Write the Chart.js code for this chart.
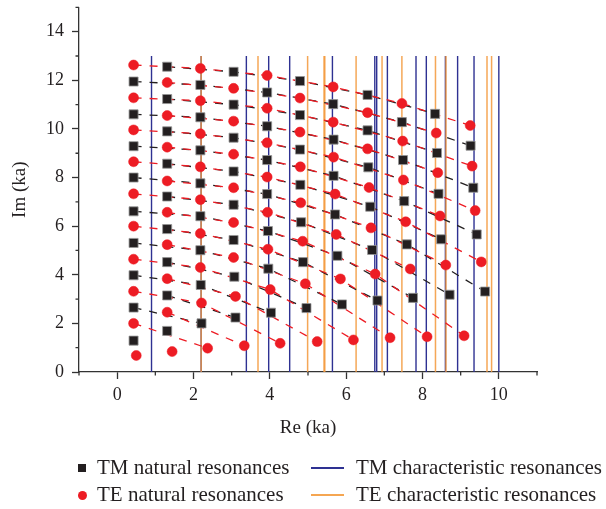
<!DOCTYPE html>
<html><head><meta charset="utf-8">
<script src="https://cdn.jsdelivr.net/npm/chart.js@4.4.1/dist/chart.umd.min.js"></script>
<style>
html,body{margin:0;padding:0;background:#fff;}
#wrap{position:relative;width:606px;height:509px;overflow:hidden;}
canvas{position:absolute;left:0;top:0;}
.lt{position:absolute;font-family:"Liberation Serif",serif;font-size:21px;color:#231f20;white-space:nowrap;line-height:22px;}
.mk{position:absolute;}
</style></head><body>
<div id="wrap"><canvas id="c" width="606" height="509"></canvas><div id="legend"></div></div>
<script>
// ---- characteristic resonances (real ka) ----
const tmCharRe = [0.90, 2.20, 3.385, 3.97, 4.52, 5.64, 6.75, 6.80, 7.08, 7.83, 8.10, 8.60, 8.92, 9.35, 10.0];
const teCharRe = [2.20, 3.69, 4.99, 5.42, 5.44, 6.26, 6.94, 7.46, 8.34, 8.615, 9.69, 9.81];
const charImSpan = [0, 13];

// ---- natural resonances, listed column by column (top row first) ----
const colIm = [
  [12.63,11.95,11.28,10.60,9.96,9.29,8.65,8.00,7.33,6.61,6.00,5.31,4.64,3.98,3.32,2.65,2.00,1.29,0.68],
  [12.56,11.91,11.23,10.55,9.90,9.25,8.57,7.86,7.22,6.57,5.88,5.24,4.52,3.84,3.15,2.46,1.69,0.84],
  [12.49,11.81,11.16,10.48,9.80,9.12,8.44,7.76,7.09,6.41,5.70,5.01,4.30,3.58,2.84,2.00,0.98],
  [12.35,11.67,11.00,10.32,9.64,8.96,8.25,7.58,6.88,6.15,5.43,4.71,3.92,3.11,2.24,1.08],
  [12.20,11.50,10.85,10.11,9.43,8.72,8.02,7.32,6.57,5.80,5.05,4.25,3.39,2.44,1.18],
  [11.97,11.27,10.57,9.87,9.15,8.44,7.70,6.96,6.16,5.38,4.52,3.63,2.63,1.25],
  [11.73,11.02,10.28,9.56,8.84,8.07,7.32,6.48,5.66,4.78,3.83,2.78,1.32],
  [11.40,10.67,9.94,9.18,8.42,7.59,6.80,5.93,5.02,4.03,2.94,1.41],
  [11.05,10.28,9.50,8.72,7.90,7.03,6.18,5.25,4.24,3.05,1.45],
  [10.62,9.83,9.01,8.20,7.33,6.42,5.46,4.40,3.18,1.49],
  [10.14,9.31,8.47,7.58,6.64,5.66,4.53,3.31]
];
const colRe = [
  [0.43,0.43,0.43,0.43,0.43,0.43,0.43,0.43,0.43,0.43,0.43,0.43,0.43,0.43,0.43,0.43,0.43,0.43,0.50],
  [1.31,1.31,1.31,1.31,1.31,1.31,1.31,1.31,1.31,1.31,1.31,1.31,1.31,1.31,1.31,1.31,1.31,1.44],
  [2.18,2.18,2.18,2.18,2.18,2.18,2.18,2.18,2.18,2.18,2.18,2.18,2.18,2.19,2.21,2.21,2.37],
  [3.05,3.05,3.05,3.05,3.05,3.05,3.05,3.05,3.05,3.05,3.05,3.05,3.07,3.10,3.10,3.33],
  [3.93,3.93,3.93,3.93,3.93,3.93,3.93,3.93,3.94,3.95,3.95,3.96,4.01,4.03,4.27],
  [4.79,4.79,4.79,4.79,4.79,4.80,4.80,4.81,4.82,4.86,4.87,4.93,4.96,5.24],
  [5.66,5.66,5.66,5.67,5.67,5.67,5.71,5.71,5.74,5.77,5.85,5.89,6.19],
  [6.56,6.56,6.56,6.56,6.58,6.60,6.63,6.65,6.68,6.76,6.82,7.15],
  [7.46,7.46,7.48,7.49,7.50,7.52,7.56,7.59,7.68,7.75,8.12],
  [8.33,8.36,8.38,8.40,8.42,8.46,8.49,8.61,8.71,9.09],
  [9.25,9.26,9.30,9.33,9.38,9.42,9.54,9.64]
];

const xTicks = [-1, 11, 1];   // min, max, step
const yTicks = [0, 15, 1];

const legendLabels = ['TM natural resonances', 'TE natural resonances', 'TM characteristic resonances', 'TE characteristic resonances'];

// ---- styles ----
const C_TM = '#231f20', C_TE = '#ed1c24', C_TMC = '#2e3192', C_TEC = 'rgba(243,152,58,0.85)', C_TEC_LEG = '#f5a652';
const FONT = '"Liberation Serif", "Times New Roman", serif';

// ---- build datasets ----
const tmPts = [], tePts = [];
const rowCount = Math.max(...colIm.map(c => c.length));
const datasets = [];
for (let r = 0; r < rowCount; r++) {
  const tmRow = [], teRow = [];
  for (let j = 0; j < colIm.length; j++) {
    if (r < colIm[j].length) {
      const p = {x: colRe[j][r], y: colIm[j][r]};
      if ((r + j) % 2 === 0) { teRow.push(p); tePts.push(p); } else { tmRow.push(p); tmPts.push(p); }
    }
  }
  if (tmRow.length > 1) datasets.push({data: tmRow, showLine: true, borderColor: C_TM, borderWidth: 1.3, borderDash: [8, 8], pointRadius: 0, order: 3});
  if (teRow.length > 1) datasets.push({data: teRow, showLine: true, borderColor: C_TE, borderWidth: 1.3, borderDash: [8, 8], pointRadius: 0, order: 2});
}
tmCharRe.forEach(v => datasets.push({data: charImSpan.map(y => ({x: v, y})), showLine: true, borderColor: C_TMC, borderWidth: 1.4, pointRadius: 0, order: 5}));
teCharRe.forEach(v => datasets.push({data: charImSpan.map(y => ({x: v, y})), showLine: true, borderColor: C_TEC, borderWidth: 1.5, pointRadius: 0, order: 4}));
datasets.push({data: tmPts, pointStyle: 'rect', pointRadius: 6.4, backgroundColor: C_TM, borderColor: 'rgba(150,150,150,0.8)', borderWidth: 1, showLine: false, order: 1});
datasets.push({data: tePts, pointStyle: 'circle', pointRadius: 5, backgroundColor: C_TE, borderColor: C_TE, borderWidth: 0.5, showLine: false, order: 0});

const minorTicks = {
  id: 'minorTicks',
  afterDraw(chart) {
    const ctx = chart.ctx, xs = chart.scales.x, ys = chart.scales.y, a = chart.chartArea;
    ctx.save();
    ctx.strokeStyle = '#333'; ctx.lineWidth = 1.3;
    ctx.beginPath();
    for (let v = xTicks[0]; v <= xTicks[1]; v += xTicks[2]) {
      if (v % 2 !== 0) { const px = xs.getPixelForValue(v); ctx.moveTo(px, a.bottom); ctx.lineTo(px, a.bottom + 3.5); }
    }
    for (let v = yTicks[0]; v <= yTicks[1]; v += yTicks[2]) {
      if (v % 2 !== 0) { const py = ys.getPixelForValue(v); ctx.moveTo(a.left, py); ctx.lineTo(a.left - 3.5, py); }
    }
    ctx.stroke();
    ctx.restore();
  }
};

const tickColor = c => (c.tick && c.tick.value % 2 === 0) ? '#333' : 'rgba(0,0,0,0)';

new Chart(document.getElementById('c'), {
  type: 'scatter',
  data: {datasets},
  options: {
    responsive: false, animation: false, events: [],
    layout: {padding: {left: 0, right: 69, top: 3, bottom: 70}},
    plugins: {legend: {display: false}, tooltip: {enabled: false}},
    scales: {
      x: {
        type: 'linear', min: xTicks[0], max: xTicks[1],
        ticks: {stepSize: xTicks[2], autoSkip: false, maxRotation: 0, padding: 5, color: '#231f20',
          font: {family: FONT, size: 18}, callback: v => (v % 2 === 0 ? String(v) : '')},
        grid: {drawOnChartArea: false, drawTicks: true, tickLength: 7, tickWidth: 1.3, tickColor},
        border: {display: true, color: '#333', width: 1.3},
        title: {display: true, text: 'Re (ka)', color: '#231f20', font: {family: FONT, size: 19}, padding: 0},
        afterFit: s => { s.height = 67; s.paddingLeft = 0; s.paddingRight = 0; }
      },
      y: {
        type: 'linear', min: yTicks[0], max: yTicks[1],
        ticks: {stepSize: yTicks[2], autoSkip: false, padding: 8, color: '#231f20',
          font: {family: FONT, size: 18}, callback: v => (v % 2 === 0 ? String(v) : '')},
        grid: {drawOnChartArea: false, drawTicks: true, tickLength: 7, tickWidth: 1.3, tickColor},
        border: {display: true, color: '#333', width: 1.3},
        title: {display: true, text: 'Im (ka)', color: '#231f20', font: {family: FONT, size: 19}, padding: {top: 9, bottom: 0}},
        afterFit: s => { s.width = 79; s.paddingTop = 0; s.paddingBottom = 0; }
      }
    }
  },
  plugins: [minorTicks]
});

// ---- legend (HTML text) ----
const lg = document.getElementById('legend');
const rowsY = [468, 495];
const items = [
  {label: legendLabels[0], kind: 'sq', color: C_TM, x: 82, y: rowsY[0]},
  {label: legendLabels[1], kind: 'ci', color: C_TE, x: 82, y: rowsY[1]},
  {label: legendLabels[2], kind: 'ln', color: C_TMC, x: 311, y: rowsY[0]},
  {label: legendLabels[3], kind: 'ln', color: C_TEC_LEG, x: 311, y: rowsY[1]}
];
items.forEach(it => {
  const m = document.createElement('div'); m.className = 'mk';
  if (it.kind === 'sq') Object.assign(m.style, {left: (it.x - 4) + 'px', top: (it.y - 4) + 'px', width: '8px', height: '8px', background: it.color});
  else if (it.kind === 'ci') Object.assign(m.style, {left: (it.x - 4.5) + 'px', top: (it.y - 4.5) + 'px', width: '9px', height: '9px', background: it.color, borderRadius: '50%'});
  else Object.assign(m.style, {left: it.x + 'px', top: (it.y - 0.7) + 'px', width: '33px', height: '1.4px', background: it.color});
  lg.appendChild(m);
  const t = document.createElement('div'); t.className = 'lt'; t.textContent = it.label;
  t.style.left = (it.kind === 'ln' ? it.x + 45 : it.x + 15) + 'px'; t.style.top = (it.y - 12) + 'px';
  lg.appendChild(t);
});
</script>
</body></html>
